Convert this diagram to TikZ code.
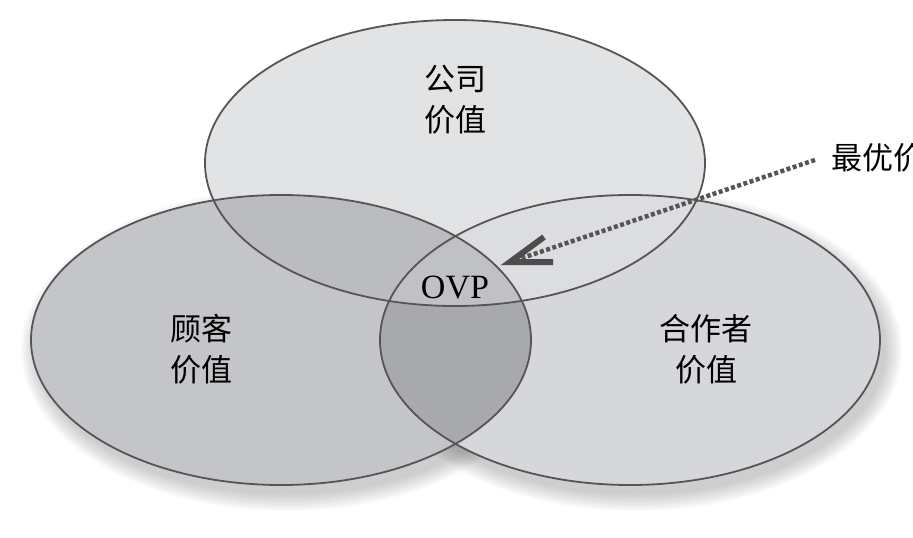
\documentclass[tikz,border=0pt]{standalone}
\usepackage{fontspec}
\setmainfont{Liberation Serif}
\newfontfamily\cjk{Noto Sans CJK SC}

\definecolor{topfill}{HTML}{E2E3E5}
\definecolor{leftfill}{HTML}{C4C5C8}
\definecolor{rightfill}{HTML}{D6D7DA}
\definecolor{tlfill}{HTML}{BBBCBF}
\definecolor{trfill}{HTML}{DCDDE0}
\definecolor{lrfill}{HTML}{A8A9AC}
\definecolor{ovpfill}{HTML}{C0C1C4}
\definecolor{rim}{HTML}{555555}

\begin{document}
\begin{tikzpicture}[x=1pt,y=-1pt,
      rim/.style={draw=rim,line width=1.8pt},
      label/.style={font=\cjk\fontsize{31}{41}\selectfont,align=center,inner sep=0pt},
      pointer/.style={draw=rim,line width=4.5pt,dash pattern=on 4pt off 2.5pt,shorten >=10pt},
      barb/.style={draw=rim!90!black,line width=6pt,miter limit=10}]
      \clip (0,0) rectangle (913,538);
      \useasboundingbox (0,0) rectangle (913,538);
      % ellipses
      \def\company{(455,163) ellipse [x radius=250,y radius=143]}
      \def\customer{(281,340) ellipse [x radius=250,y radius=145]}
      \def\partner{(630,340) ellipse [x radius=250,y radius=145]}
      % soft shadow
      \foreach \r in {0,2,...,16}{
        \fill[black,opacity=0.025] (287,350) ellipse [x radius=250+\r,y radius=145+\r];
        \fill[black,opacity=0.025] (636,350) ellipse [x radius=250+\r,y radius=145+\r];
      }
      \fill[leftfill] \customer;
      \fill[rightfill] \partner;
      \fill[topfill] \company;
      \begin{scope}
        \clip \company;
        \fill[tlfill] \customer;
        \fill[trfill] \partner;
      \end{scope}
      \begin{scope}
        \clip \customer;
        \fill[lrfill] \partner;
        \clip \partner;
        \fill[ovpfill] \company;
      \end{scope}
      \draw[rim] \company;
      \draw[rim] \customer;
      \draw[rim] \partner;
      % labels
      \node[label] (company) at (455,100) {公司\\价值};
      \node[label] (customer) at (201,349) {顾客\\价值};
      \node[label] (partner) at (706,349) {合作者\\价值};
      \node[font=\fontsize{34}{40}\selectfont,inner sep=0pt] (ovp) at (455,287) {OVP};
      \node[label,anchor=west] (best) at (831,158) {最优价};
      \coordinate (tip) at (510,262);
      \draw[pointer] (best.west) ++(-16,2) -- (tip);
      \draw[barb] (tip) ++(34,-25) -- (tip) -- ++(43,0);
\end{tikzpicture}
\end{document}
